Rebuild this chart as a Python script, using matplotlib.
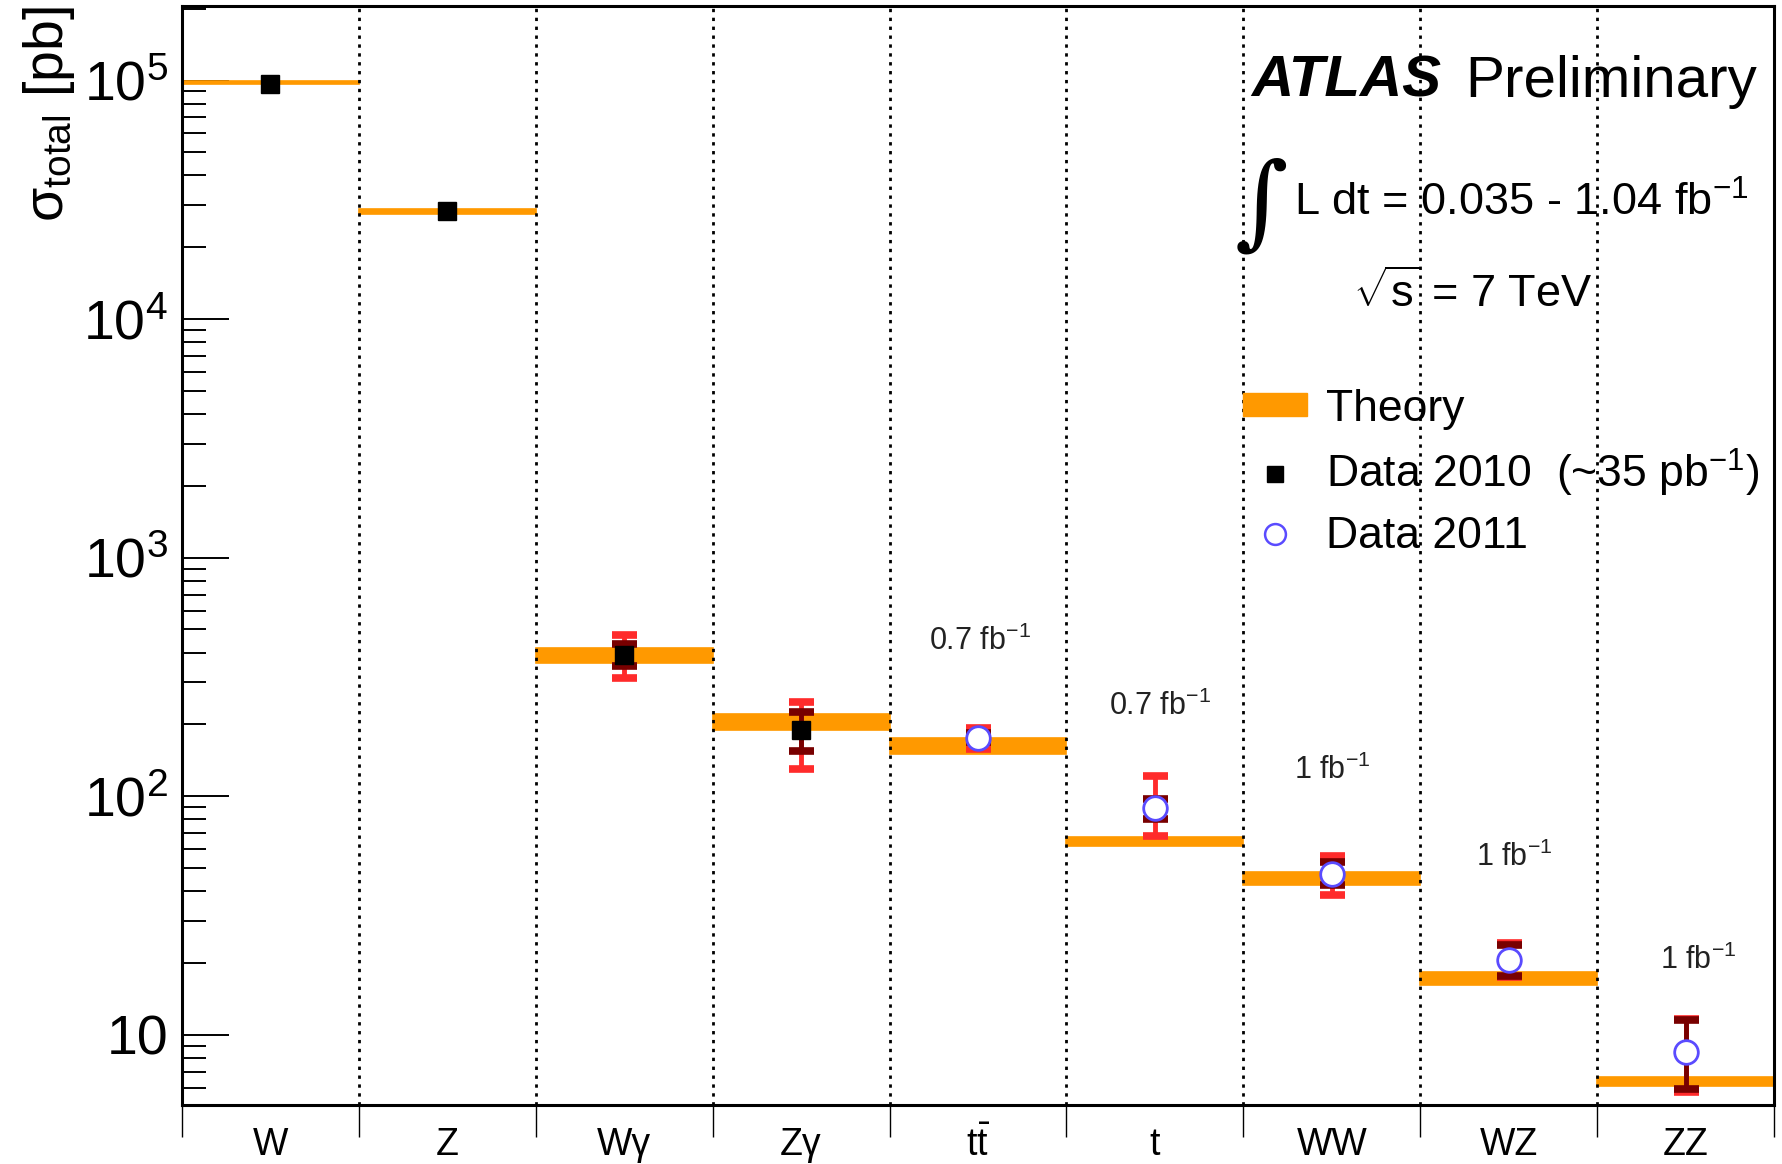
import matplotlib
matplotlib.use('Agg')
import matplotlib.pyplot as plt
from matplotlib.patches import Patch
from matplotlib.lines import Line2D
from matplotlib.ticker import NullFormatter, LogLocator, FixedLocator
import numpy as np

plt.rcParams['font.family'] = ['Liberation Sans', 'DejaVu Sans']
plt.rcParams['mathtext.fontset'] = 'custom'
plt.rcParams['mathtext.rm'] = 'Liberation Sans'
plt.rcParams['mathtext.it'] = 'Liberation Sans:italic'
plt.rcParams['mathtext.bf'] = 'Liberation Sans:bold'

# channels, one bin each
channels = ['W', 'Z', 'Wγ', 'Zγ', r'$\mathrm{t}\bar{\mathrm{t}}$', 't', 'WW', 'WZ', 'ZZ']

# theory prediction band [pb]
theory_lo = [96500, 27700, 363, 190, 151, 62.0, 42.3, 16.1, 6.10]
theory_hi = [99500, 29000, 420, 222, 176, 67.6, 48.1, 18.3, 6.67]

# Data 2010 (~35 pb-1)
d10_bin = [0, 1, 2, 3]
d10_val = [97000, 28300, 392, 190]
d10_stat_up = [0, 0, 44, 36]
d10_stat_dn = [0, 0, 40, 35]
d10_tot_up = [0, 0, 83, 59]
d10_tot_dn = [0, 0, 78, 60]

# Data 2011
d11_bin = [4, 5, 6, 7, 8]
d11_val = [176, 89.0, 47.2, 20.6, 8.5]
d11_stat_up = [8, 8.7, 5.8, 3.3, 3.0]
d11_stat_dn = [8, 8.6, 4.9, 2.9, 2.55]
d11_tot_up = [17, 32, 8.9, 3.6, 3.1]
d11_tot_dn = [18, 21, 8.6, 3.1, 2.75]

lumi_text = ['0.7 fb$^{-1}$', '0.7 fb$^{-1}$', '1 fb$^{-1}$', '1 fb$^{-1}$', '1 fb$^{-1}$']
lumi_x = [4.51, 5.53, 6.50, 7.53, 8.57]
lumi_y = [446, 238, 128, 55.7, 20.5]

ORANGE = '#ff9900'
RED = '#ff2b2b'
DARKRED = '#780000'
BLUE = '#5a4bff'

fig = plt.figure(figsize=(17.83, 11.64), dpi=100)
ax = fig.add_axes([0.102, 0.0507, 0.893, 0.944])
ax.set_yscale('log')
ax.set_xlim(0, len(channels))
ax.set_ylim(5.08, 2.05e5)

# theory bands
lo = np.array(theory_lo)
hi = np.array(theory_hi)
centers = np.arange(len(channels)) + 0.5
ax.bar(centers, hi - lo, bottom=lo, width=1.0, color=ORANGE,
       edgecolor=ORANGE, linewidth=1.2, zorder=2)

# bin separators
for b in range(1, len(channels)):
    ax.axvline(b, color='black', linestyle=(0, (1.2, 2.0)), linewidth=2.0, zorder=3)


def draw_errors(bins, vals, tot_dn, tot_up, st_dn, st_up):
    for b, v, td, tu, sd, su in zip(bins, vals, tot_dn, tot_up, st_dn, st_up):
        if tu == 0 and td == 0:
            continue
        ax.errorbar(b + 0.5, v, yerr=[[td], [tu]], fmt='none', ecolor=RED,
                    elinewidth=3.5, capsize=9, capthick=5.5, zorder=4)
        ax.errorbar(b + 0.5, v, yerr=[[sd], [su]], fmt='none', ecolor=DARKRED,
                    elinewidth=3.5, capsize=9, capthick=5.5, zorder=5)


draw_errors(d10_bin, d10_val, d10_tot_dn, d10_tot_up, d10_stat_dn, d10_stat_up)
draw_errors(d11_bin, d11_val, d11_tot_dn, d11_tot_up, d11_stat_dn, d11_stat_up)

ax.plot(np.array(d10_bin) + 0.5, d10_val, 's', color='black', markersize=13, zorder=6)
ax.plot(np.array(d11_bin) + 0.5, d11_val, 'o', markerfacecolor='white',
        markeredgecolor=BLUE, markeredgewidth=2.0, markersize=17, zorder=6)

for x, y, s in zip(lumi_x, lumi_y, lumi_text):
    ax.text(x, y, s, ha='center', va='center', fontsize=22, color='#222222')

# axes styling
for sp in ax.spines.values():
    sp.set_linewidth(2.2)
ax.set_yticks([10, 100, 1e3, 1e4, 1e5],
              labels=['10', '$10^{2}$', '$10^{3}$', '$10^{4}$', '$10^{5}$'])
ax.yaxis.set_minor_locator(LogLocator(base=10, subs=np.arange(2, 10)))
ax.yaxis.set_minor_formatter(NullFormatter())
ax.tick_params(axis='y', which='major', direction='in', length=34, width=1.4,
               labelsize=40, pad=10)
ax.tick_params(axis='y', which='minor', direction='in', length=17, width=1.4)

ax.xaxis.set_major_locator(FixedLocator(np.arange(0, len(channels) + 1)))
ax.xaxis.set_major_formatter(NullFormatter())
ax.xaxis.set_minor_locator(FixedLocator(centers))
ax.set_xticklabels(channels, minor=True)
ax.tick_params(axis='x', which='major', direction='out', length=23, width=1.0)
ax.tick_params(axis='x', which='minor', length=0, labelsize=27, pad=16)

ax.set_ylabel('σ$_{\\mathrm{total}}$ [pb]', fontsize=40, loc='top')
ax.yaxis.set_label_coords(-0.066, 1.0)

# header texts
fig.text(0.7016, 0.9167, 'ATLAS', fontsize=42, fontweight='bold', fontstyle='italic',
         va='baseline')
fig.text(0.8216, 0.9167, 'Preliminary', fontsize=42, va='baseline')
fig.text(0.6925, 0.822, '∫', fontsize=74, family='DejaVu Serif', va='center',
         fontstyle='italic')
fig.text(0.7257, 0.8144, 'L dt = 0.035 - 1.04 fb$^{-1}$', fontsize=32.5, va='baseline')
fig.text(0.7588, 0.7363, r'$\sqrt{\mathrm{s}}$ = 7 TeV', fontsize=32.5, va='baseline')

handles = [
    Patch(facecolor=ORANGE, edgecolor=ORANGE),
    Line2D([], [], marker='s', color='black', linestyle='none', markersize=12),
    Line2D([], [], marker='o', markerfacecolor='white', markeredgecolor=BLUE,
           markeredgewidth=1.8, linestyle='none', markersize=15),
]
labels = ['Theory', 'Data 2010  (~35 pb$^{-1}$)', 'Data 2011']
ax.legend(handles, labels, loc='upper left', bbox_to_anchor=(0.655, 0.668),
          frameon=False, fontsize=32, handlelength=1.45, handleheight=0.42,
          handletextpad=0.42, labelspacing=0.38, borderaxespad=0)

fig.savefig('out.png', dpi=100)
